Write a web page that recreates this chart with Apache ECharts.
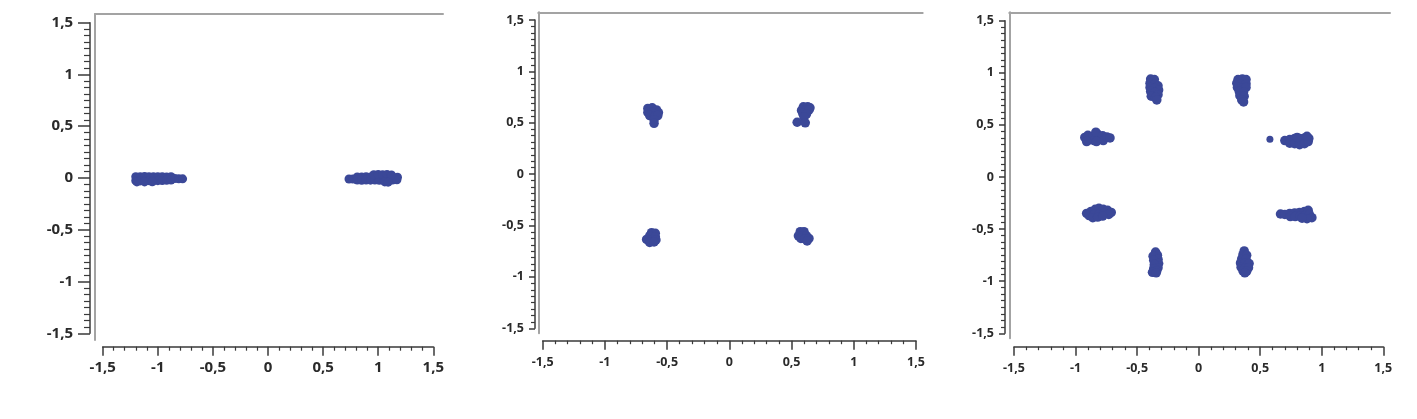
<!DOCTYPE html>
<html><head><meta charset="utf-8">
<script src="https://cdn.jsdelivr.net/npm/echarts@6/dist/echarts.min.js"></script>
<style>html,body{margin:0;padding:0;background:#fff}#c{width:1417px;height:419px}</style>
</head><body><div id="c"></div>
<script>
// ---- data ----
const axisMin = -1.5, axisMax = 1.5, axisStep = 0.5;
const bpskLeft = [
  [-1.20,0.012],[-1.16,0.012],[-1.12,0.014],[-1.08,0.012],[-1.04,0.013],[-1.00,0.012],[-0.96,0.012],[-0.92,0.010],[-0.88,0.012],
  [-1.20,-0.026],[-1.16,-0.028],[-1.12,-0.026],[-1.08,-0.026],[-1.04,-0.024],[-1.00,-0.026],[-0.96,-0.025],[-0.92,-0.022],[-0.88,-0.020],
  [-1.19,-0.038],[-1.12,-0.038],[-1.05,-0.036],
  [-0.845,-0.005],[-0.81,-0.008],[-0.775,-0.008]
];
const bpskRight = [
  [0.735,-0.010],[0.77,-0.010],
  [0.81,0.010],[0.85,0.010],[0.89,0.012],[0.93,0.010],[0.97,0.011],[1.01,0.010],[1.05,0.012],[1.09,0.010],[1.13,0.011],[1.175,0.008],
  [0.81,-0.020],[0.85,-0.022],[0.89,-0.020],[0.93,-0.021],[0.97,-0.020],[1.01,-0.022],[1.05,-0.020],[1.09,-0.021],[1.13,-0.020],[1.17,-0.018],
  [0.96,0.032],[1.00,0.033],[1.04,0.032],[1.08,0.033],[1.12,0.030],
  [1.06,-0.038],[1.09,-0.040]
];
const qpskTL = [[-0.655,0.64],[-0.62,0.645],[-0.585,0.625],[-0.57,0.60],[-0.655,0.60],[-0.62,0.60],[-0.64,0.57],[-0.60,0.565],[-0.575,0.57],[-0.605,0.53],[-0.605,0.495]];
const qpskTR = [[0.595,0.655],[0.63,0.655],[0.648,0.645],[0.58,0.62],[0.615,0.62],[0.64,0.625],[0.59,0.59],[0.62,0.585],[0.60,0.555],[0.545,0.505],[0.61,0.50]];
const qpskBL = [[-0.625,-0.57],[-0.595,-0.575],[-0.64,-0.60],[-0.595,-0.61],[-0.665,-0.635],[-0.625,-0.64],[-0.59,-0.64],[-0.64,-0.665],[-0.605,-0.66]];
const qpskBR = [[0.57,-0.56],[0.60,-0.56],[0.555,-0.60],[0.59,-0.60],[0.62,-0.60],[0.575,-0.625],[0.61,-0.63],[0.64,-0.625],[0.625,-0.65]];
const psk8A = [[-0.39,0.94],[-0.36,0.935],[-0.395,0.90],[-0.355,0.89],[-0.33,0.875],[-0.395,0.86],[-0.36,0.85],[-0.325,0.835],[-0.39,0.82],[-0.355,0.81],[-0.33,0.79],[-0.385,0.775],[-0.35,0.765],[-0.34,0.74]];
const psk8B = [[0.32,0.935],[0.355,0.94],[0.385,0.935],[0.31,0.90],[0.345,0.895],[0.385,0.895],[0.315,0.86],[0.35,0.855],[0.385,0.86],[0.33,0.82],[0.365,0.815],[0.335,0.78],[0.37,0.775],[0.35,0.74],[0.365,0.72]];
const psk8C = [[0.70,0.35],[0.74,0.36],[0.78,0.37],[0.82,0.37],[0.86,0.375],[0.895,0.37],[0.74,0.325],[0.78,0.32],[0.82,0.31],[0.86,0.32],[0.89,0.34],[0.80,0.38],[0.88,0.39]];
const psk8COutlier = [[0.579,0.362]];
const psk8D = [[0.665,-0.355],[0.70,-0.36],[0.74,-0.35],[0.78,-0.345],[0.82,-0.34],[0.86,-0.33],[0.89,-0.32],[0.745,-0.38],[0.785,-0.38],[0.825,-0.375],[0.865,-0.37],[0.90,-0.36],[0.92,-0.39],[0.88,-0.40],[0.84,-0.395]];
const psk8E = [[-0.91,-0.35],[-0.89,-0.37],[-0.875,-0.33],[-0.84,-0.31],[-0.81,-0.30],[-0.775,-0.31],[-0.74,-0.32],[-0.71,-0.34],[-0.85,-0.36],[-0.81,-0.355],[-0.77,-0.35],[-0.73,-0.36],[-0.86,-0.39],[-0.82,-0.385],[-0.78,-0.375]];
const psk8F = [[-0.925,0.38],[-0.90,0.40],[-0.89,0.355],[-0.86,0.39],[-0.85,0.35],[-0.82,0.41],[-0.81,0.36],[-0.835,0.43],[-0.78,0.395],[-0.775,0.35],[-0.745,0.385],[-0.72,0.375],[-0.91,0.34],[-0.83,0.34]];
const psk8G = [[-0.35,-0.72],[-0.335,-0.75],[-0.37,-0.76],[-0.33,-0.79],[-0.365,-0.80],[-0.325,-0.83],[-0.36,-0.84],[-0.33,-0.87],[-0.365,-0.88],[-0.34,-0.90],[-0.375,-0.915],[-0.345,-0.92]];
const psk8H = [[0.37,-0.71],[0.36,-0.745],[0.39,-0.75],[0.35,-0.785],[0.385,-0.79],[0.34,-0.825],[0.375,-0.83],[0.41,-0.83],[0.345,-0.865],[0.38,-0.87],[0.405,-0.87],[0.36,-0.90],[0.39,-0.905],[0.375,-0.92]];

// ---- layout / style ----
const DOT = '#3b4898';
const FRAME = '#a3a3a3';
const RULER = '#3a3a3a';
const panels = [
  {grid:{left:102.7,top:22.7,width:330.6,height:310.6}, frame:{left:95,top:14,width:348,height:326},
   yOff:12.7, xOff:13.4, font:15, yMargin:17, xMargin:14, yMaj:12, yMin:6, xMaj:9, xMin:4,
   series:[[bpskLeft,9],[bpskRight,9]]},
  {grid:{left:542.7,top:20,width:373.3,height:308.3}, frame:{left:538.3,top:12.3,width:384.4,height:321},
   yOff:7.7, xOff:12.4, font:12.5, yMargin:11, xMargin:15, yMaj:6, yMin:4, xMaj:9, xMin:3.5,
   series:[[qpskTL,9.5],[qpskTR,9.5],[qpskBL,9.5],[qpskBR,9.5]]},
  {grid:{left:1014,top:20.7,width:369.3,height:312.6}, frame:{left:1009.3,top:12.3,width:380.7,height:326},
   yOff:9, xOff:13.4, font:12.5, yMargin:11, xMargin:15, yMaj:6, yMin:4, xMaj:9, xMin:3.5,
   series:[[psk8A,9.5],[psk8B,9.5],[psk8C,9.5],[psk8COutlier,7],[psk8D,9.5],[psk8E,9.5],[psk8F,9.5],[psk8G,9.5],[psk8H,9.5]]}
];
const fmt = v => String(v).replace('.', ',');
const grids=[], xAxes=[], yAxes=[], series=[];
panels.forEach((p,i)=>{
  const gi = grids.length;
  grids.push(Object.assign({}, p.grid));
  grids.push(Object.assign({}, p.frame));
  const label = {formatter:fmt, color:'#2a2a2a', fontFamily:'Open Sans', fontWeight:'bold', fontSize:p.font};
  xAxes.push({gridIndex:gi, type:'value', min:axisMin, max:axisMax, interval:axisStep, position:'bottom', offset:p.xOff,
    axisLine:{show:true,onZero:false,lineStyle:{color:RULER,width:1.5}},
    axisTick:{show:true,length:p.xMaj,lineStyle:{color:RULER,width:1.5}},
    minorTick:{show:true,splitNumber:5,length:p.xMin,lineStyle:{color:RULER,width:1.2}},
    splitLine:{show:false}, axisLabel:Object.assign({margin:p.xMargin},label)});
  yAxes.push({gridIndex:gi, type:'value', min:axisMin, max:axisMax, interval:axisStep, position:'left', offset:p.yOff,
    axisLine:{show:true,onZero:false,lineStyle:{color:RULER,width:1.5}},
    axisTick:{show:true,length:p.yMaj,lineStyle:{color:RULER,width:1.5}},
    minorTick:{show:true,splitNumber:8,length:p.yMin,lineStyle:{color:RULER,width:1.2}},
    splitLine:{show:false}, axisLabel:Object.assign({margin:p.yMargin},label)});
  const hidden = {axisTick:{show:false},axisLabel:{show:false},splitLine:{show:false}};
  xAxes.push(Object.assign({gridIndex:gi+1,type:'value',min:0,max:1,position:'top',
    axisLine:{show:true,onZero:false,lineStyle:{color:FRAME,width:2}}},hidden));
  yAxes.push(Object.assign({gridIndex:gi+1,type:'value',min:0,max:1,position:'left',
    axisLine:{show:true,onZero:false,lineStyle:{color:FRAME,width:2}}},hidden));
  p.series.forEach(([d,sz])=>{
    series.push({type:'scatter', xAxisIndex:gi, yAxisIndex:gi, data:d, symbol:'circle', symbolSize:sz,
      itemStyle:{color:DOT, opacity:1}, silent:true, animation:false});
  });
});
const chart = echarts.init(document.getElementById('c'), null, {renderer:'canvas'});
chart.setOption({animation:false, backgroundColor:'#fff', grid:grids, xAxis:xAxes, yAxis:yAxes, series:series});
</script></body></html>
